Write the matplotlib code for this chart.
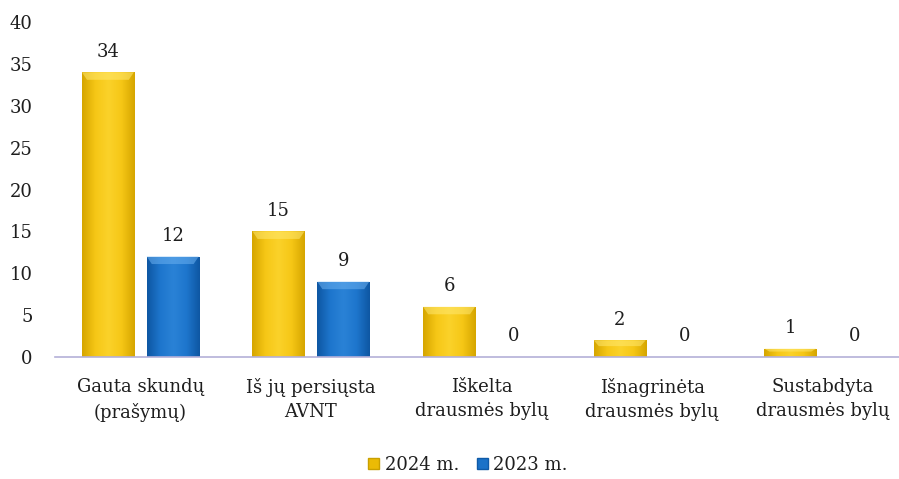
import matplotlib
matplotlib.use("Agg")
import matplotlib.pyplot as plt
import numpy as np
from matplotlib.colors import LinearSegmentedColormap
from matplotlib.patches import Patch

categories = ["Gauta skundų\n(prašymų)", "Iš jų persiųsta\nAVNT", "Iškelta\ndrausmės bylų",
              "Išnagrinėta\ndrausmės bylų", "Sustabdyta\ndrausmės bylų"]
values_2024 = [34, 15, 6, 2, 1]
values_2023 = [12, 9, 0, 0, 0]
series_labels = ["2024 m.", "2023 m."]
yticks = [0, 5, 10, 15, 20, 25, 30, 35, 40]

plt.rcParams['font.family'] = ['DejaVu Serif']
text_color = "#1e1e1e"
fs = 13

fig = plt.figure(figsize=(8.99, 4.79), dpi=100)
ax = fig.add_axes([55/899, 1-357/479, 853/899, (357-22)/479])

x = np.arange(len(categories))
w = 0.305
off = 0.19

yellow_cmap = LinearSegmentedColormap.from_list("y", ["#D6A600", "#F6C716", "#FBD22A", "#F6C716", "#D6A600"])
blue_cmap = LinearSegmentedColormap.from_list("b", ["#0E57A3", "#1E76CD", "#2A82D6", "#1E76CD", "#0E57A3"])

def grad_bars(bars, cmap, top_color):
    grad = np.linspace(0, 1, 64).reshape(1, -1)
    for b in bars:
        h = b.get_height()
        if h <= 0:
            continue
        x0, w0 = b.get_x(), b.get_width()
        im = ax.imshow(grad, extent=[x0, x0 + w0, 0, h], cmap=cmap, aspect='auto', zorder=2,
                       interpolation='bicubic')
        im.set_clip_path(b)
        bev = min(0.9, h * 0.35)
        ax.fill([x0, x0 + w0, x0 + w0 - 0.03, x0 + 0.03], [h, h, h - bev, h - bev],
                color=top_color, alpha=0.55, zorder=3, lw=0)

b1 = ax.bar(x - off, values_2024, w, color="none", edgecolor="none", zorder=2)
b2 = ax.bar(x + off, values_2023, w, color="none", edgecolor="none", zorder=2)
grad_bars(b1, yellow_cmap, "#FFE870")
grad_bars(b2, blue_cmap, "#6AB0F0")

for xi, v in zip(x - off, values_2024):
    ax.text(xi, v + 1.4, str(v), ha='center', va='bottom', fontsize=fs, color=text_color)
for xi, v in zip(x + off, values_2023):
    ax.text(xi, v + 1.4, str(v), ha='center', va='bottom', fontsize=fs, color=text_color)

ax.set_xlim(-0.5, 4.5)
ax.set_ylim(0, 40)
ax.set_yticks(yticks)
ax.set_yticklabels([str(t) for t in yticks], fontsize=fs, color=text_color)
ax.set_xticks(x)
ax.set_xticklabels(categories, fontsize=fs, color=text_color, linespacing=1.45)
ax.tick_params(axis='y', length=0, pad=16)
ax.tick_params(axis='x', length=0, pad=15)
for s in ['top', 'right', 'left']:
    ax.spines[s].set_visible(False)
ax.spines['bottom'].set_color("#B4B0D8")
ax.spines['bottom'].set_linewidth(1.2)

handles = [Patch(facecolor="#EBBB05", edgecolor="#C9A000"), Patch(facecolor="#1B72C8", edgecolor="#0F5AA8")]
fig.legend(handles, series_labels, loc='center', bbox_to_anchor=(468/899, 1-465/479), ncol=2,
           frameon=False, fontsize=fs, handlelength=0.6, handleheight=0.6, handletextpad=0.3,
           columnspacing=1.0, labelcolor=text_color)

fig.savefig("out.png", dpi=100)
